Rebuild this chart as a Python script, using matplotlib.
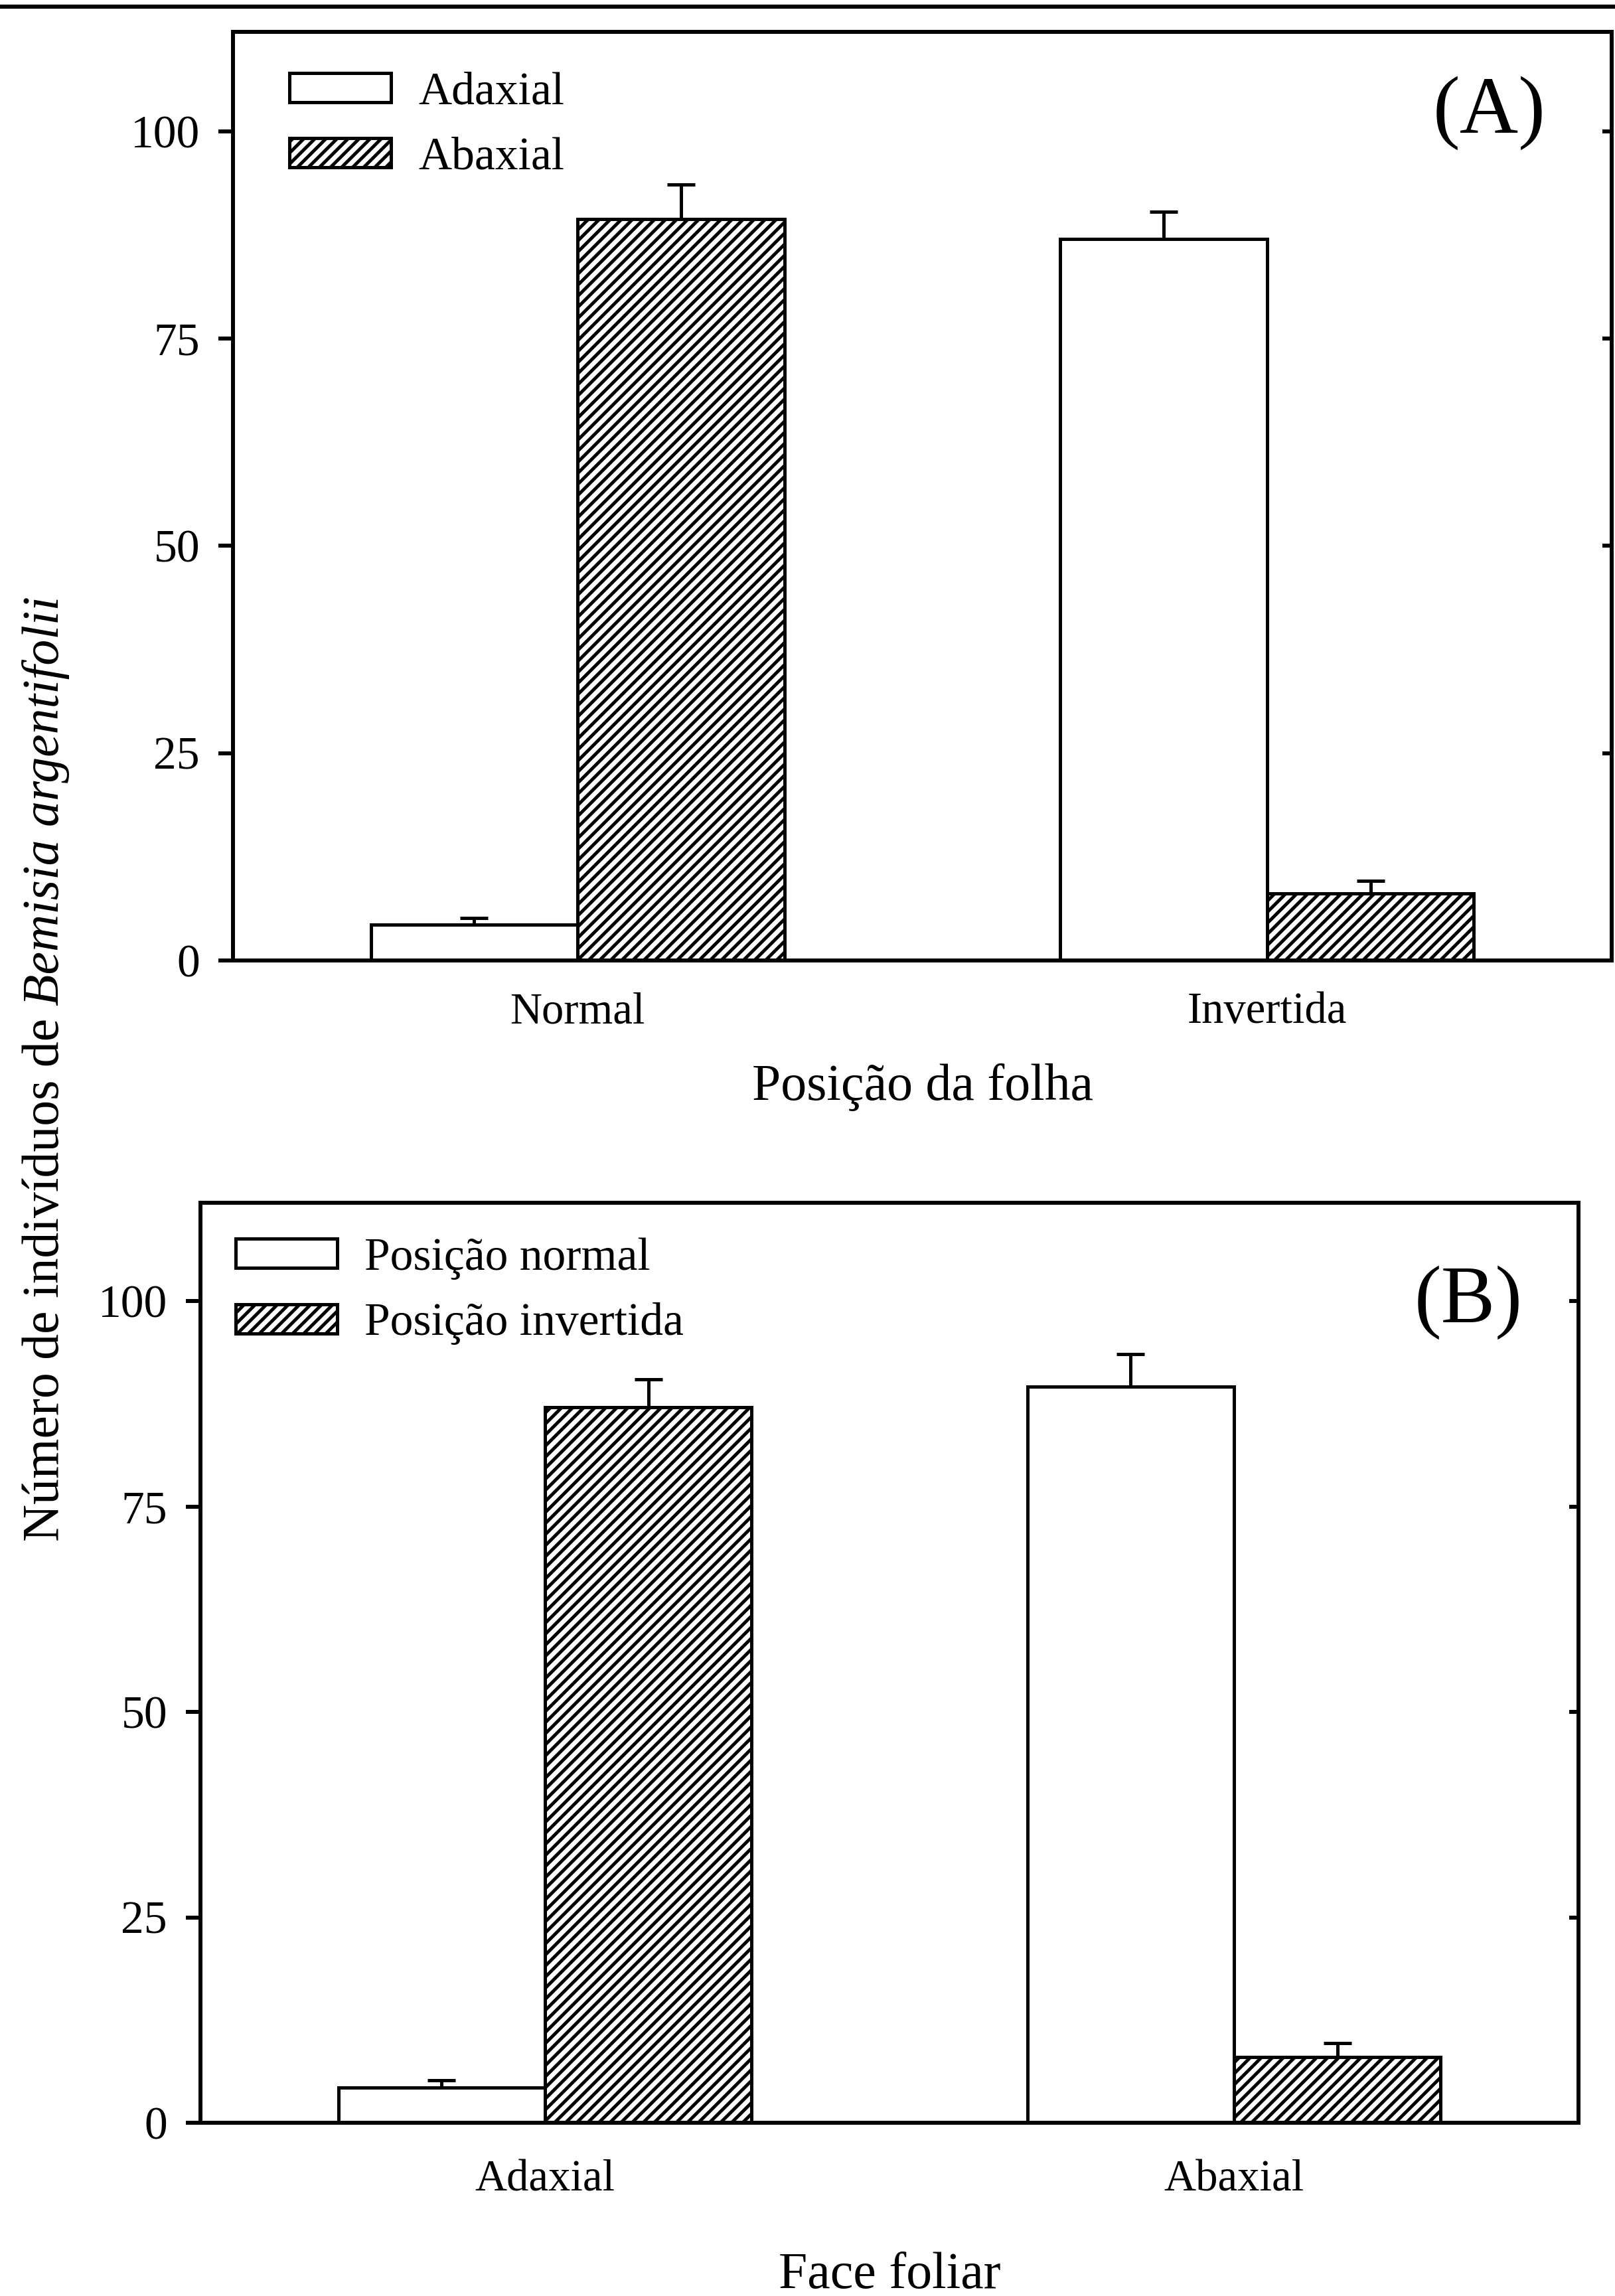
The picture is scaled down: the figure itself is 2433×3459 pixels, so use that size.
import numpy as np
import matplotlib
matplotlib.use("Agg")
import matplotlib.pyplot as plt
from matplotlib.lines import Line2D

plt.rcParams["font.family"] = "Liberation Serif"
plt.rcParams["hatch.linewidth"] = 3.6
plt.rcParams["hatch.color"] = "black"

# panel A: leaf position, bars per leaf face
pos_labels = ["Normal", "Invertida"]
adaxial_mean = [4.3, 87.0]
adaxial_err = [0.8, 3.3]
abaxial_mean = [89.4, 8.1]
abaxial_err = [4.2, 1.5]

# panel B: leaf face, bars per leaf position
face_labels = ["Adaxial", "Abaxial"]
normal_mean = [4.3, 89.6]
normal_err = [0.9, 4.0]
invert_mean = [87.1, 8.0]
invert_err = [3.4, 1.7]

W, H = 2433, 3459
fig = plt.figure(figsize=(W / 100, H / 100), dpi=100)


def fx(px):
    return px / W


def fy(py):
    return 1 - py / H


def panel(rect, labels, m1, e1, m2, e2, names, leg_xy, tag, tag_xy, xpad):
    ax = fig.add_axes(rect)
    x = np.arange(len(labels))
    w = 0.30
    ax.bar(x - w / 2, m1, w, color="white", edgecolor="black", linewidth=3.6, label=names[0], zorder=2)
    ax.bar(x + w / 2, m2, w, color="white", edgecolor="black", hatch="//", linewidth=3.6, label=names[1], zorder=2)
    for xs, m, e in [(x - w / 2, m1, e1), (x + w / 2, m2, e2)]:
        ax.errorbar(xs, m, yerr=[[0] * len(m), e], fmt="none", ecolor="black",
                    elinewidth=3.6, capsize=15, capthick=3.6, zorder=3)
    ax.set_xlim(-0.5, 1.5)
    ax.set_ylim(0, 112)
    ax.set_yticks([0, 25, 50, 75, 100])
    ax.set_xticks(x)
    ax.set_xticklabels(labels)
    ax.tick_params(axis="x", length=0, pad=xpad, labelsize=48)
    ax.tick_params(axis="y", direction="out", length=16, width=4.3, pad=20, labelsize=50)
    for s in ax.spines.values():
        s.set_linewidth(4.3)
    ax2 = ax.twinx()
    ax2.set_ylim(ax.get_ylim())
    ax2.set_yticks([0, 25, 50, 75, 100])
    ax2.tick_params(axis="y", direction="in", length=10, width=4.3, labelright=False)
    ax.legend(loc="upper left", bbox_to_anchor=leg_xy, bbox_transform=fig.transFigure,
              frameon=False, fontsize=50, handlelength=2.2, handleheight=0.6,
              handletextpad=0.6, labelspacing=0.5, borderpad=0, borderaxespad=0)
    fig.text(tag_xy[0], tag_xy[1], tag, fontsize=88, ha="center", va="center")
    return ax


panel([fx(351), fy(1447), fx(2428) - fx(351), fy(48) - fy(1447)],
      pos_labels, adaxial_mean, adaxial_err, abaxial_mean, abaxial_err,
      ["Adaxial", "Abaxial"], (fx(436), fy(108)), "(A)", (fx(2244), fy(170)), 34)

panel([fx(302), fy(3198), fx(2378) - fx(302), fy(1812) - fy(3198)],
      face_labels, normal_mean, normal_err, invert_mean, invert_err,
      ["Posição normal", "Posição invertida"], (fx(355), fy(1864)), "(B)", (fx(2212), fy(1962)), 40)

fig.text(fx(1390), fy(1657), "Posição da folha", fontsize=56, ha="center", va="baseline")
fig.text(fx(1340), fy(3447), "Face foliar", fontsize=56, ha="center", va="baseline")

# y label: roman part followed by the italic species name
ylab_a = "Número de indivíduos de"
ylab_b = "Bemisia argentifolii"
r = fig.canvas.get_renderer()
ta = fig.text(0, 0, ylab_a, fontsize=56)
tb = fig.text(0, 0, ylab_b, fontsize=56, style="italic")
wa = ta.get_window_extent(r).width + 0.25 * 56 * 100 / 72
wb = tb.get_window_extent(r).width
ta.remove()
tb.remove()
y_start = 1610 + (wa + wb) / 2
fig.text(fx(88), fy(y_start), ylab_a, fontsize=56, rotation=90,
         rotation_mode="anchor", ha="left", va="baseline")
fig.text(fx(88), fy(y_start - wa), ylab_b, fontsize=56, style="italic", rotation=90,
         rotation_mode="anchor", ha="left", va="baseline")

fig.add_artist(Line2D([0, 1], [fy(10), fy(10)], transform=fig.transFigure, color="black", lw=4.5))

fig.savefig("out.png", dpi=100)
